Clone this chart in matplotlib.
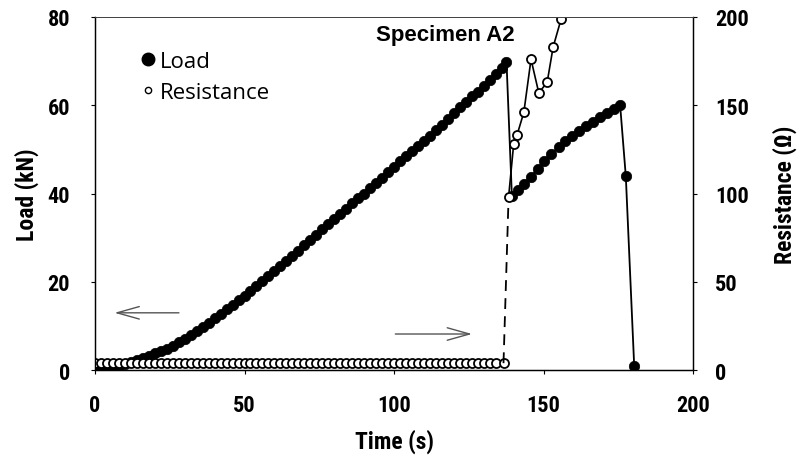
import matplotlib
matplotlib.use('Agg')
import matplotlib.pyplot as plt
from matplotlib.lines import Line2D
from matplotlib.font_manager import FontProperties

# Load, first branch (s, kN)
t_load1 = [0, 2, 4, 6, 8, 10, 12, 14, 16, 18, 20, 22, 24, 26, 28, 30, 32, 34, 36, 38,
           40, 42, 44, 46, 48, 50, 52, 54, 56, 58, 60, 62, 64, 66, 68, 70, 72, 74, 76, 78,
           80, 82, 84, 86, 88, 90, 92, 94, 96, 98, 100, 102, 104, 106, 108, 110, 112, 114,
           116, 118, 120, 122, 124, 126, 128, 130, 132, 134, 136, 137.6]
load1 = [0, 0.15, 0.4, 0.6, 0.95, 1.3, 1.75, 2.25, 2.75, 3.3, 3.8, 4.35, 4.9, 5.55, 6.3,
         7.0, 7.9, 8.8, 9.8, 10.8, 11.8, 12.8, 13.8, 14.8, 15.8, 16.8, 17.9, 19.0, 20.2,
         21.3, 22.4, 23.6, 24.7, 25.9, 27.1, 28.3, 29.5, 30.7, 31.9, 33.0, 34.2, 35.4,
         36.6, 37.8, 38.9, 40.0, 41.2, 42.3, 43.5, 44.8, 46.0, 47.3, 48.6, 49.7, 50.7,
         51.8, 53.1, 54.4, 55.6, 56.9, 58.2, 59.5, 60.8, 62.0, 63.1, 64.3, 65.7, 67.1,
         68.5, 69.9]

# Load, after first crack
t_load2 = [139.4, 141.6, 143.6, 145.8, 148.0, 150.3, 152.6, 155.0, 157.3, 159.6, 162.0,
           164.3, 166.6, 169.0, 171.3, 173.6, 175.6, 177.5, 180.3]
load2 = [39.5, 40.8, 42.2, 43.8, 45.6, 47.4, 49.0, 50.5, 51.8, 53.0, 54.2,
         55.3, 56.3, 57.4, 58.3, 59.2, 60.0, 43.9, 1.0]

# Resistance before crack (s, ohm)
t_res1 = [0, 2, 4, 6, 8, 10, 12, 14, 16, 18, 20, 22, 24, 26, 28, 30, 32, 34, 36, 38,
          40, 42, 44, 46, 48, 50, 52, 54, 56, 58, 60, 62, 64, 66, 68, 70, 72, 74, 76, 78,
          80, 82, 84, 86, 88, 90, 92, 94, 96, 98, 100, 102, 104, 106, 108, 110, 112, 114,
          116, 118, 120, 122, 124, 126, 128, 130, 132, 134, 136.6]
res1 = [4, 4, 4, 4, 4, 4, 4, 4, 4, 4, 4, 4, 4, 4, 4, 4, 4, 4, 4, 4,
        4, 4, 4, 4, 4, 4, 4, 4, 4, 4, 4, 4, 4, 4, 4, 4, 4, 4, 4, 4,
        4, 4, 4, 4, 4, 4, 4, 4, 4, 4, 4, 4, 4, 4, 4, 4, 4, 4,
        4, 4, 4, 4, 4, 4, 4, 4, 4, 4, 4]

# Resistance after crack
t_res2 = [138.3, 140.0, 141.1, 143.4, 145.8, 148.4, 151.2, 153.2, 155.9]
res2 = [98, 128, 133, 146, 176, 157, 163, 183, 199]

cond = FontProperties(family='Roboto Condensed', weight='bold', size=16)

fig = plt.figure(figsize=(8.05, 4.6), dpi=100)
ax = fig.add_axes([0.118, 0.193, 0.743, 0.768])
ax2 = ax.twinx()

ax.plot(t_load1 + t_load2, load1 + load2, '-o', color='black', lw=1.3, ms=7.5,
        markeredgewidth=0.5)

ax2.plot(t_res1, res1, 'o', color='black', mfc='white', ms=6.5, mew=1.3)
ax2.plot([t_res1[-1], t_res2[0]], [res1[-1], res2[0]], '--', color='black',
         lw=1.3, dashes=(6, 4))
ax2.plot(t_res2, res2, '-o', color='black', mfc='white', ms=6.5, mew=1.3, lw=1.2)

ax.set_xlim(0, 200)
ax.set_ylim(0, 80)
ax2.set_ylim(0, 200)
ax.set_xticks([0, 50, 100, 150, 200])
ax.set_yticks([0, 20, 40, 60, 80])
ax2.set_yticks([0, 50, 100, 150, 200])

for a in (ax, ax2):
    a.tick_params(direction='out', length=3, width=0.8)
    for lab in a.get_xticklabels() + a.get_yticklabels():
        lab.set_fontproperties(cond)
    for s in a.spines.values():
        s.set_linewidth(0.9)
    a.spines['top'].set_color('#444444')
    a.spines['top'].set_linewidth(0.7)
ax.tick_params(axis='x', pad=14)
ax.tick_params(axis='y', pad=15)
ax2.tick_params(axis='y', pad=13)

lab_font = FontProperties(family='Roboto Condensed', weight='bold', size=17)
ax.set_xlabel('Time (s)', fontproperties=lab_font, labelpad=9)
ax.set_ylabel('Load (kN)', fontproperties=lab_font, labelpad=6)
ax2.set_ylabel('Resistance (\u03a9)', fontproperties=lab_font, labelpad=17)

ax.text(0.585, 0.949, 'Specimen A2', transform=ax.transAxes, ha='center', va='center',
        fontsize=16, family='Liberation Sans', weight='bold')

# direction arrows
ax.annotate('', xy=(5.6, 13), xytext=(29, 13),
            arrowprops=dict(arrowstyle='->,head_length=1.6,head_width=0.45',
                            color='#555555', lw=1.0))
ax.annotate('', xy=(127, 8.2), xytext=(99.5, 8.2),
            arrowprops=dict(arrowstyle='->,head_length=1.6,head_width=0.45',
                            color='#555555', lw=1.0))

handles = [Line2D([], [], marker='o', color='black', ls='none', ms=9),
           Line2D([], [], marker='o', color='black', mfc='white', ls='none', ms=4.5, mew=1)]
ax2.legend(handles, ['Load', 'Resistance'], loc='upper left', bbox_to_anchor=(0.065, 0.93),
           frameon=False, handlelength=0.5, handletextpad=0.25, labelspacing=0.45,
           borderaxespad=0, prop=dict(family='Open Sans', size=16))

fig.savefig('out.png', dpi=100)
